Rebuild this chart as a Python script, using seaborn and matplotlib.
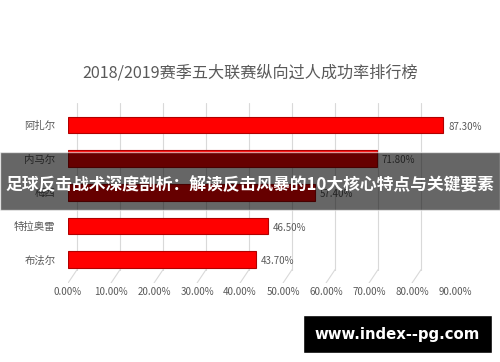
import matplotlib
matplotlib.use("Agg")
import matplotlib.pyplot as plt
import matplotlib.patches as mpatches
import pandas as pd
import seaborn as sns

# data
players = ["阿扎尔", "内马尔", "梅西", "特拉奥雷", "布法尔"]
rates = [87.3, 71.8, 57.4, 46.5, 43.7]
xticks = [0, 10, 20, 30, 40, 50, 60, 70, 80, 90]

title = "2018/2019赛季五大联赛纵向过人成功率排行榜"
banner = "足球反击战术深度剖析：解读反击风暴的10大核心特点与关键要素"
watermark = "www.index--pg.com"

sns.set_theme(style="white")
plt.rcParams['font.family'] = ['Noto Sans CJK SC', 'DejaVu Sans']

fig = plt.figure(figsize=(5, 3.62), dpi=100)
ax = fig.add_axes([0.136, 0.218, 0.774, 0.497])

df = pd.DataFrame({"player": players, "rate": rates})

# fake 3d gridlines: back wall offset to the right, short floor diagonal
for t in xticks:
    ax.plot([t + 2.1, t + 2.1], [-0.65, 4.3], color="#d9d9d9", lw=0.8, zorder=0)
    ax.plot([t + 2.1, t], [4.3, 4.7], color="#d9d9d9", lw=0.8, zorder=0)

sns.barplot(data=df, x="rate", y="player", orient="h", color="#ff0000",
            edgecolor="#b00000", linewidth=0.8, width=0.5, saturation=1, ax=ax)

for i, v in enumerate(rates):
    ax.text(v + 1.2, i + 0.05, f"{v:.2f}%", va="center", ha="left",
            fontsize=7, color="#595959")

ax.set_xlim(0, 90)
ax.set_ylim(4.7, -0.65)
ax.set_xticks(xticks)
ax.set_xticklabels([f"{t:.2f}%" for t in xticks], fontsize=7, color="#595959")
ax.tick_params(axis="x", pad=3, length=0)
ax.tick_params(axis="y", pad=9, length=0, labelsize=7.5, labelcolor="#595959")
ax.set_xlabel("")
ax.set_ylabel("")
sns.despine(ax=ax, left=True, bottom=True)

fig.text(0.5, 1 - 73 / 362, title, ha="center", va="center",
         fontsize=11.6, color="#595959")

# dark banner across the middle
fig.add_artist(mpatches.Rectangle((0, 1 - 210 / 362), 1, 58 / 362,
                                  transform=fig.transFigure, facecolor="black",
                                  alpha=0.6, zorder=10))
fig.text(0.5, 1 - 185 / 362, banner, ha="center", va="center",
         fontsize=12.1, fontweight="bold", color="white", zorder=11)

# watermark box bottom right
fig.add_artist(mpatches.Rectangle((303 / 500, 1 - 353 / 362), 189 / 500, 38 / 362,
                                  transform=fig.transFigure, facecolor="black",
                                  zorder=10))
fig.text(397 / 500, 1 - 334 / 362, watermark, ha="center", va="center",
         fontsize=10.7, fontweight="bold", color="white", zorder=11,
         family=["DejaVu Sans"])

fig.savefig("out.png", dpi=100)
